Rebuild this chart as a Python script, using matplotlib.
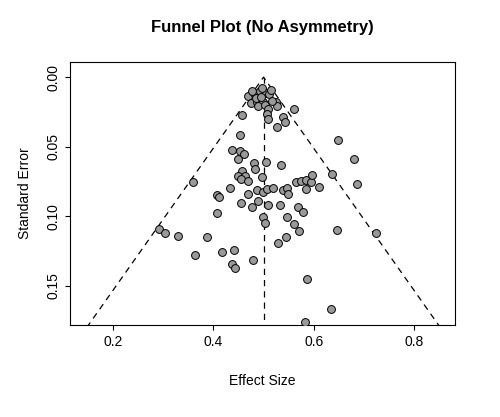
import matplotlib
matplotlib.use("Agg")
import matplotlib.pyplot as plt
import numpy as np

plt.rcParams['font.family'] = ['Liberation Sans', 'DejaVu Sans']

effect = [0.437,0.453,0.461,0.449,0.481,0.505,0.535,0.483,0.457,0.449,0.463,0.455,0.469,0.497,0.359,
          0.433,0.487,0.499,0.507,0.519,0.539,0.547,0.549,0.565,0.575,0.585,0.595,0.597,0.585,0.611,
          0.636,0.680,0.686,0.648,0.407,0.411,0.469,0.455,0.489,0.477,0.509,0.533,0.569,0.579,0.407,
          0.547,0.499,0.503,0.561,0.571,0.646,0.724,0.292,0.304,0.330,0.387,0.545,0.363,0.417,0.441,
          0.437,0.443,0.479,0.529,0.587,0.634,0.583,
          0.469,0.481,0.493,0.505,0.511,0.475,0.487,0.499,0.489,0.503,0.525,0.527,0.561,0.457,0.509,
          0.507,0.509,0.539,0.543,0.527,0.453,0.497,0.515,0.485,0.495,0.517,0.477]
se = [0.0524,0.0532,0.0553,0.0589,0.0618,0.0611,0.0632,0.0661,0.0675,0.0711,0.0711,0.0733,0.0747,0.0718,0.0754,
      0.0797,0.0812,0.0826,0.0805,0.0797,0.0812,0.0797,0.0841,0.0754,0.0747,0.0740,0.0754,0.0704,0.0805,0.0790,
      0.0697,0.0589,0.0769,0.0453,0.0848,0.0862,0.0841,0.0905,0.0891,0.0934,0.0920,0.0920,0.0934,0.0970,0.0977,
      0.1006,0.1006,0.1049,0.1056,0.1106,0.1099,0.1121,0.1092,0.1121,0.1142,0.1149,0.1149,0.1279,0.1257,0.1243,
      0.1343,0.1372,0.1315,0.1193,0.1451,0.1667,0.1760,
      0.0136,0.0115,0.0101,0.0115,0.0122,0.0187,0.0180,0.0180,0.0208,0.0201,0.0180,0.0208,0.0230,0.0273,0.0230,
      0.0266,0.0302,0.0287,0.0323,0.0359,0.0417,0.008,0.009,0.015,0.014,0.017,0.010]

center = 0.5
se_max = 0.18

fig = plt.figure(figsize=(5, 4.17), dpi=100)
ax = fig.add_axes([0.14, 0.221, 0.77, 0.63])
ax.scatter(effect, se, s=32, facecolor="#999999", edgecolor="black", linewidth=0.7, zorder=3)
ax.plot([center - 1.96*se_max, center, center + 1.96*se_max], [se_max, 0, se_max],
        color="black", linestyle=(0, (5, 4)), linewidth=0.9)
ax.plot([center, center], [0, se_max], color="black", linestyle=(0, (5, 4)), linewidth=0.9)
ax.set_xlim(0.114, 0.882)
ax.set_ylim(0.178, -0.0108)
ax.set_xticks([0.2, 0.4, 0.6, 0.8])
ax.set_yticks([0.0, 0.05, 0.10, 0.15])
ax.set_yticklabels(["0.00", "0.05", "0.10", "0.15"], rotation=90, va="center")
ax.tick_params(labelsize=10)
ax.set_xlabel("Effect Size", fontsize=10, labelpad=18)
ax.set_ylabel("Standard Error", fontsize=10, labelpad=10)
ax.set_title("Funnel Plot (No Asymmetry)", fontsize=12, fontweight="bold", pad=22)
fig.savefig("out.png", dpi=100)
